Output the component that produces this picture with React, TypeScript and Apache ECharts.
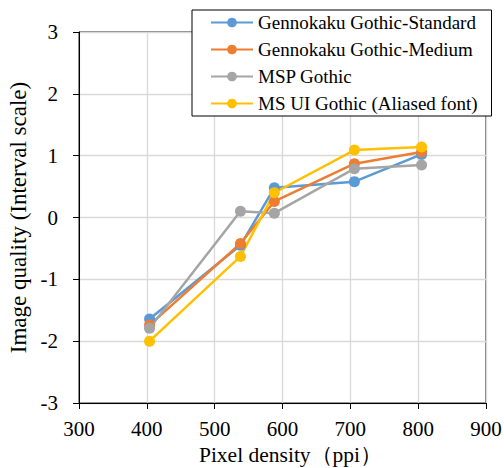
import React, { useEffect, useRef } from "react";
import * as echarts from "echarts";

const seriesNames = [
  "Gennokaku Gothic-Standard",
  "Gennokaku Gothic-Medium",
  "MSP Gothic",
  "MS UI Gothic (Aliased font)",
];
const pixelDensity = [404, 538, 588, 706, 805];
const standardValues = [-1.64, -0.45, 0.48, 0.58, 1.02];
const mediumValues = [-1.74, -0.42, 0.26, 0.87, 1.06];
const mspValues = [-1.79, 0.1, 0.07, 0.79, 0.85];
const msuiValues = [-2.0, -0.63, 0.4, 1.09, 1.14];
const colors = ["#5B9BD5", "#ED7D31", "#A5A5A5", "#FFC000"];

const FONT = "Liberation Serif";

export default function App() {
  const ref = useRef<HTMLDivElement>(null);
  useEffect(() => {
    if (!ref.current) return;
    const chart = echarts.init(ref.current, undefined, { renderer: "svg" });
    const all = [standardValues, mediumValues, mspValues, msuiValues];
    chart.setOption({
      animation: false,
      color: colors,
      textStyle: { fontFamily: FONT },
      grid: {
        left: 79,
        top: 32,
        right: 18,
        bottom: 65,
        show: true,
        borderColor: "#000",
        borderWidth: 1,
        containLabel: false,
        outerBoundsMode: "none",
      },
      legend: {
        orient: "vertical",
        left: 192,
        top: 10,
        padding: [3, 14, 3, 18],
        itemGap: 8,
        itemWidth: 42,
        itemHeight: 12,
        backgroundColor: "#fff",
        borderColor: "#000",
        borderWidth: 1,
        textStyle: { fontFamily: FONT, fontSize: 19, color: "#000" },
        data: seriesNames,
      },
      xAxis: {
        type: "value",
        min: 300,
        max: 900,
        interval: 100,
        name: "Pixel density（ppi）",
        nameLocation: "middle",
        nameGap: 41,
        nameTextStyle: {
          fontFamily: FONT,
          fontSize: 21.5,
          lineHeight: 22,
          color: "#000",
          padding: [0, 0, 0, 16],
        },
        axisLine: { show: true, onZero: false, lineStyle: { color: "#000", width: 1 } },
        axisTick: { show: true, length: 6, lineStyle: { color: "#000" } },
        axisLabel: { fontFamily: FONT, fontSize: 21, color: "#000", margin: 15 },
        splitLine: { show: true, lineStyle: { color: "#d9d9d9", width: 1.3 } },
      },
      yAxis: {
        type: "value",
        min: -3,
        max: 3,
        interval: 1,
        name: "Image quality (Interval scale)",
        nameLocation: "middle",
        nameGap: 45,
        nameTextStyle: { fontFamily: FONT, fontSize: 23, color: "#000" },
        axisLine: { show: true, onZero: false, lineStyle: { color: "#000", width: 1 } },
        axisTick: { show: true, length: 6, lineStyle: { color: "#000" } },
        axisLabel: { fontFamily: FONT, fontSize: 21, color: "#000", margin: 21 },
        splitLine: { show: true, lineStyle: { color: "#d9d9d9", width: 1.3 } },
      },
      series: seriesNames.map((name, i) => ({
        name,
        type: "line",
        data: pixelDensity.map((x, j) => [x, all[i][j]]),
        symbol: "circle",
        symbolSize: 11,
        lineStyle: { width: 2.5, color: colors[i] },
        itemStyle: { color: colors[i] },
      })),
    });
    return () => chart.dispose();
  }, []);
  return <div ref={ref} style={{ width: 504, height: 468, position: "absolute", left: 0, top: 0 }} />;
}
